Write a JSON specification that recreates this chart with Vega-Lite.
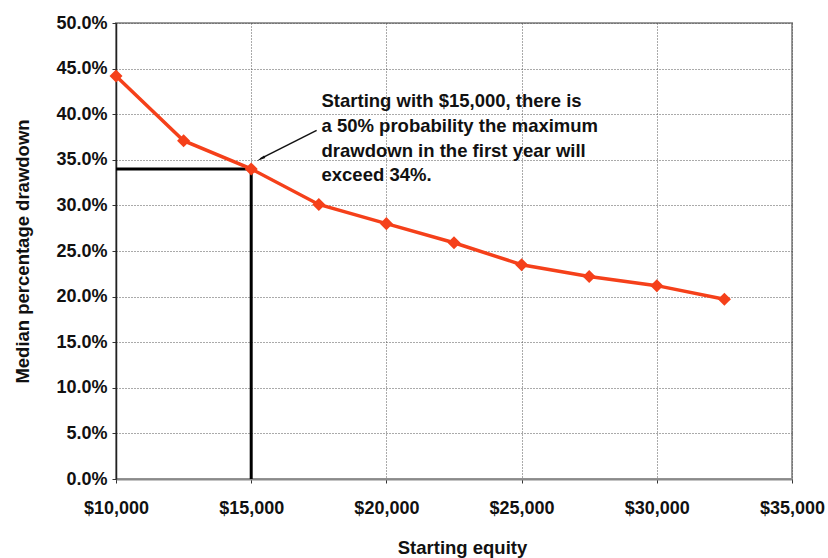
{
  "$schema": "https://vega.github.io/schema/vega-lite/v6.json",
  "width": 676,
  "height": 456,
  "autosize": "none",
  "padding": {"left": 116, "top": 23, "right": 36, "bottom": 79},
  "background": "white",
  "config": {
    "font": "Liberation Sans",
    "view": {"stroke": "#9a9a9a", "strokeWidth": 2},
    "axis": {
      "labelFont": "Liberation Sans",
      "labelFontWeight": "bold",
      "labelFontSize": 18,
      "labelColor": "#111",
      "labelFlush": false,
      "labelOverlap": false,
      "titleFont": "Liberation Sans",
      "titleFontWeight": "bold",
      "titleFontSize": 18.5,
      "titleColor": "#111",
      "grid": true,
      "gridColor": "#555",
      "gridDash": [1, 2],
      "gridWidth": 1,
      "tickColor": "#333",
      "tickSize": 4
    }
  },
  "datasets": {
    "drawdown": [
      {"equity": 10000, "median_dd": 0.442},
      {"equity": 12500, "median_dd": 0.371},
      {"equity": 15000, "median_dd": 0.340},
      {"equity": 17500, "median_dd": 0.301},
      {"equity": 20000, "median_dd": 0.280},
      {"equity": 22500, "median_dd": 0.259},
      {"equity": 25000, "median_dd": 0.235},
      {"equity": 27500, "median_dd": 0.222},
      {"equity": 30000, "median_dd": 0.212},
      {"equity": 32500, "median_dd": 0.197}
    ],
    "guides": [
      {"x": 10000, "x2": 15000, "y": 0.34, "y2": 0.34},
      {"x": 15000, "x2": 15000, "y": 0.34, "y2": 0}
    ],
    "arrow": [
      {"x": 17420, "y": 0.3823, "x2": 15330, "y2": 0.3510, "hx": 15400, "hy": 0.3518}
    ],
    "note": [
      {"x": 17600, "y": 0.4079, "label": "Starting with $15,000, there is\na 50% probability the maximum\ndrawdown in the first year will\nexceed 34%."}
    ]
  },
  "layer": [
    {
      "data": {"name": "guides"},
      "mark": {"type": "rule", "color": "#000", "strokeWidth": 3},
      "encoding": {
        "x": {
          "field": "x",
          "type": "quantitative",
          "scale": {"domain": [10000, 35000], "nice": false},
          "axis": {
            "values": [10000, 15000, 20000, 25000, 30000, 35000],
            "format": "$,.0f",
            "title": "Starting equity",
            "titleAlign": "center",
            "titleBaseline": "alphabetic",
            "titleX": 346,
            "titleY": 74,
            "labelPadding": 16,
            "domainColor": "#8a8a8a",
            "domainWidth": 2
          }
        },
        "x2": {"field": "x2"},
        "y": {
          "field": "y",
          "type": "quantitative",
          "scale": {"domain": [0, 0.5], "nice": false},
          "axis": {
            "values": [0, 0.05, 0.1, 0.15, 0.2, 0.25, 0.3, 0.35, 0.4, 0.45, 0.5],
            "format": ".1%",
            "title": "Median percentage drawdown",
            "titleAngle": -90,
            "titleAlign": "center",
            "titleBaseline": "alphabetic",
            "titleX": -88,
            "titleY": 228,
            "labelPadding": 5,
            "domainColor": "#222",
            "domainWidth": 1.5
          }
        },
        "y2": {"field": "y2"}
      }
    },
    {
      "data": {"name": "drawdown"},
      "mark": {
        "type": "line",
        "color": "#F5401A",
        "strokeWidth": 3.5,
        "point": {"shape": "diamond", "size": 170, "filled": true, "color": "#F5401A"}
      },
      "encoding": {
        "x": {"field": "equity", "type": "quantitative"},
        "y": {"field": "median_dd", "type": "quantitative"}
      }
    },
    {
      "data": {"name": "arrow"},
      "mark": {"type": "rule", "color": "#111", "strokeWidth": 1.5},
      "encoding": {
        "x": {"field": "x", "type": "quantitative"},
        "y": {"field": "y", "type": "quantitative"},
        "x2": {"field": "x2"},
        "y2": {"field": "y2"}
      }
    },
    {
      "data": {"name": "arrow"},
      "mark": {"type": "point", "shape": "wedge", "size": 110, "filled": true, "color": "#111", "opacity": 1, "angle": 242},
      "encoding": {
        "x": {"field": "hx", "type": "quantitative"},
        "y": {"field": "hy", "type": "quantitative"}
      }
    },
    {
      "data": {"name": "note"},
      "mark": {
        "type": "text",
        "align": "left",
        "baseline": "alphabetic",
        "lineBreak": "\n",
        "lineHeight": 24.8,
        "font": "Liberation Sans",
        "fontWeight": "bold",
        "fontSize": 18.5,
        "color": "#111"
      },
      "encoding": {
        "x": {"field": "x", "type": "quantitative"},
        "y": {"field": "y", "type": "quantitative"},
        "text": {"field": "label"}
      }
    }
  ]
}
